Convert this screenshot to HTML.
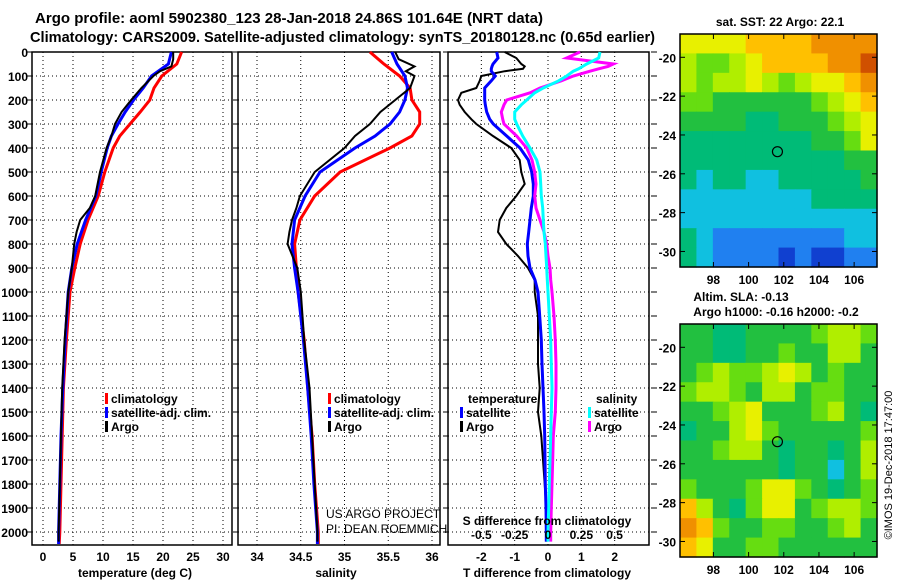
<!DOCTYPE html>
<html><head><meta charset="utf-8"><style>
body{margin:0;background:#fff;}
svg{display:block;font-family:"Liberation Sans",sans-serif;}
text{font-weight:bold;font-size:12px;fill:#000;}
</style></head><body>
<svg id="c" width="900" height="580" viewBox="0 0 900 580" xmlns="http://www.w3.org/2000/svg">
<text x="35" y="23" textLength="508" lengthAdjust="spacingAndGlyphs" style="font-size:15px">Argo profile: aoml 5902380_123 28-Jan-2018 24.86S 101.64E (NRT data)</text>
<text x="30" y="42" textLength="625" lengthAdjust="spacingAndGlyphs" style="font-size:15px">Climatology: CARS2009. Satellite-adjusted climatology: synTS_20180128.nc (0.65d earlier)</text>
<text x="780" y="26" text-anchor="middle">sat. SST: 22 Argo: 22.1</text>
<text x="741" y="301" text-anchor="middle">Altim. SLA: -0.13</text>
<text x="776" y="316" text-anchor="middle">Argo h1000: -0.16 h2000: -0.2</text>
<text transform="translate(892,465) rotate(-90)" text-anchor="middle" style="font-weight:normal;font-size:11px">©IMOS 19-Dec-2018 17:47:00</text>
<g id="g"></g>
</svg>
<script>
const depths=[0,50,100,150,200,250,300,350,400,500,600,700,800,900,1000,1200,1400,1600,1800,2000,2050];
const tClim=[23.1,22.3,19.8,18.5,17.8,16.2,14.5,12.8,11.7,10.3,9.2,7.5,6.2,5.3,4.5,3.9,3.4,3.2,3.0,2.8,2.7];
const tSat=[21.4,20.9,18.1,16.7,15.1,13.7,12.5,11.4,10.7,9.7,8.8,7.1,5.7,4.8,4.2,3.7,3.3,3.0,2.8,2.6,2.6];
const argoDepths=[0,30,60,80,100,150,200,250,300,350,400,500,600,650,700,750,800,900,1000,1200,1400,1600,1800,2000,2040];
const tArgo=[21.7,21.7,21.4,19.5,18.4,16.4,14.7,13.1,12.0,11.4,10.6,9.5,8.7,7.8,6.2,5.6,5.2,4.8,4.2,3.6,3.2,3.0,2.8,2.6,2.6];
const sClim=[35.29,35.45,35.63,35.75,35.77,35.86,35.86,35.77,35.52,34.95,34.66,34.49,34.43,34.45,34.47,34.54,34.58,34.63,34.66,34.70,34.70];
const sSat=[35.54,35.6,35.69,35.72,35.69,35.63,35.52,35.35,35.12,34.72,34.55,34.43,34.40,34.43,34.47,34.53,34.58,34.62,34.65,34.69,34.69];
const sArgo=[35.58,35.62,35.8,35.7,35.8,35.75,35.58,35.41,35.29,35.12,35.0,34.66,34.49,34.45,34.4,34.37,34.35,34.46,34.5,34.54,34.6,34.63,34.66,34.69,34.69];
const dDepths=[0,25,50,60,70,80,100,120,150,170,200,220,250,280,300,350,400,450,500,550,600,650,700,750,800,850,900,950,1000,1100,1200,1300,1400,1500,1600,1700,1800,1900,2000,2040];
const dtArgo=[-1.3,-0.95,-0.8,-0.7,-0.75,-1.3,-2.0,-2.05,-2.15,-2.6,-2.7,-2.65,-2.5,-2.3,-2.15,-1.65,-1.1,-0.85,-0.8,-0.7,-0.95,-1.25,-1.45,-1.5,-1.25,-0.9,-0.6,-0.4,-0.4,-0.3,-0.3,-0.3,-0.25,-0.3,-0.2,-0.15,-0.1,-0.05,-0.05,-0.05];
const dtSat=[-1.54,-1.5,-1.65,-1.68,-1.7,-1.7,-1.58,-1.7,-1.9,-1.9,-1.9,-1.88,-1.84,-1.75,-1.64,-1.24,-0.84,-0.59,-0.49,-0.44,-0.44,-0.5,-0.54,-0.58,-0.62,-0.6,-0.54,-0.39,-0.3,-0.25,-0.2,-0.18,-0.15,-0.12,-0.1,-0.09,-0.08,-0.06,-0.05,-0.05];
const dsArgo=[0.24,0.14,0.49,0.45,0.38,0.315,0.19,0.1,-0.06,-0.135,-0.31,-0.33,-0.35,-0.34,-0.33,-0.235,-0.16,-0.12,-0.1,-0.09,-0.1,-0.09,-0.06,-0.03,-0.01,0.0,0.015,0.02,0.03,0.045,0.055,0.06,0.06,0.055,0.04,0.035,0.03,0.025,0.02,0.02];
const dsSat=[0.39,0.38,0.29,0.26,0.23,0.19,0.14,0.08,-0.035,-0.1,-0.16,-0.2,-0.25,-0.25,-0.235,-0.19,-0.135,-0.085,-0.06,-0.055,-0.05,-0.04,-0.035,-0.03,-0.02,-0.015,-0.01,-0.005,0,0.01,0.02,0.025,0.03,0.025,0.02,0.015,0.01,0.005,0.0,0.0];
const depthTicks=[0,100,200,300,400,500,600,700,800,900,1000,1100,1200,1300,1400,1500,1600,1700,1800,1900,2000];
const tTicks=[0,5,10,15,20,25,30];
const sTicks=[34,34.5,35,35.5,36];
const dtTicks=[-2,-1,0,1,2];
const dsTicks=[-0.5,-0.25,0,0.25,0.5];
const sstGrid=[
[7,7,7,7,8,8,8,8,9,9,9,9],[6,5,5,6,7,8,8,8,8,9,9,10],[6,5,6,6,7,6,5,6,7,7,8,9],[5,5,4,4,4,4,4,4,5,6,7,8],
[4,4,4,4,3,3,4,4,4,5,6,7],[3,3,3,3,3,3,3,3,4,4,5,7],[3,3,3,3,3,3,3,3,3,3,4,4],[3,2,3,3,2,2,3,3,3,3,3,4],
[2,2,2,2,2,2,2,2,3,3,3,3],[2,2,2,2,2,2,2,2,2,2,2,2],[3,2,1,1,1,1,1,1,1,1,2,2],[3,2,1,1,1,1,0,1,0,0,1,1]];
const slaGrid=[
[4,4,3,3,4,4,4,4,5,6,6,5],[4,4,3,3,4,4,5,4,4,6,6,4],[4,5,6,5,5,6,7,6,4,5,4,4],[5,6,6,5,4,6,6,4,5,5,4,4],
[4,4,5,6,7,4,4,4,5,6,4,3],[3,4,4,6,7,5,4,4,4,4,4,5],[4,4,5,6,6,4,3,4,4,3,4,6],[4,4,4,4,4,4,3,4,4,2,4,6],
[5,4,4,4,5,7,7,5,4,3,4,5],[8,6,4,3,5,7,7,4,5,6,6,5],[9,8,5,4,4,5,5,4,4,5,6,4],[8,7,4,4,5,5,4,4,4,4,4,4]];
const cmap=['#1040d0','#2080f0','#10c0e0','#00bb77','#22c040','#66dd11','#b0ee00','#e8f000','#ffc000','#f09000','#d05000'];
const latTicks=[-20,-22,-24,-26,-28,-30];
const lonTicks=[98,100,102,104,106];

const NS='http://www.w3.org/2000/svg';
const G=document.getElementById('g');
function mk(tag,attrs,parent){const e=document.createElementNS(NS,tag);for(const k in attrs)e.setAttribute(k,attrs[k]);(parent||G).appendChild(e);return e;}
const yD=d=>52+d*0.24;
const xT=t=>43+t*6;
const xS=s=>257+(s-34)*87.5;
const xDT=t=>548+t*33.33;
const xDS=s=>548+s*133.3;

function panel(name,x0,x1,ticksX,fx,labelFmt){
  const g=mk('g',{});
  
  
  ticksX.forEach(v=>{const l=mk('line',{x1:fx(v),x2:fx(v),y1:52,y2:545,stroke:'#000','stroke-dasharray':'1,3','stroke-width':1},g);
    });
  depthTicks.forEach(d=>{const l=mk('line',{x1:x0,x2:x1,y1:yD(d),y2:yD(d),stroke:'#000','stroke-dasharray':'1,3','stroke-width':1},g);
    
    mk('line',{x1:x0-5,x2:x0,y1:yD(d),y2:yD(d),stroke:'#000'},g);});
  const r=mk('rect',{x:x0,y:52,width:x1-x0,height:493,fill:'none',stroke:'#000','stroke-width':1.5},g);
  
  if(labelFmt){ticksX.forEach(v=>{const t=mk('text',{x:fx(v),y:561,'text-anchor':'middle'},g);t.textContent=labelFmt(v);
    });}
  return g;
}
function line(name,ds,vs,fx,col,w,g){
  const p=mk('polyline',{points:ds.map((d,i)=>fx(vs[i]).toFixed(1)+','+yD(d).toFixed(1)).join(' '),fill:'none',stroke:col,'stroke-width':w,'stroke-linejoin':'miter'},g);
  
}
function txt(name,x,y,s,anchor,g,style){const t=mk('text',{x:x,y:y,'text-anchor':anchor||'start'},g);t.textContent=s;if(style)t.setAttribute('style',style);
  return t;}
function legend(name,x,y,col,label,g){const r=mk('rect',{x:x,y:y-10,width:3,height:11,fill:col},g);
  txt(name,x+6,y,label,'start',g);}

const p1=panel('temperature-panel',32,232,tTicks,xT,v=>String(v));
depthTicks.forEach(d=>txt('depth-tick-label',28,yD(d)+5,String(d),'end',p1));
line('temp-climatology-line',depths,tClim,xT,'#ff0000',3,p1);
line('temp-satellite-line',depths,tSat,xT,'#0000ff',3,p1);
line('temp-argo-line',argoDepths,tArgo,xT,'#000',2,p1);
txt('x-axis-title',135,577,'temperature (deg C)','middle',p1);
legend('legend-climatology',105,403,'#ff0000','climatology',p1);
legend('legend-satellite',105,417,'#0000ff','satellite-adj. clim.',p1);
legend('legend-argo',105,431,'#000','Argo',p1);

const p2=panel('salinity-panel',238,440,sTicks,xS,v=>String(v));
line('sal-climatology-line',depths,sClim,xS,'#ff0000',3,p2);
line('sal-satellite-line',depths,sSat,xS,'#0000ff',3,p2);
line('sal-argo-line',argoDepths,sArgo,xS,'#000',2,p2);
txt('x-axis-title',336,577,'salinity','middle',p2);
legend('legend-climatology',328,403,'#ff0000','climatology',p2);
legend('legend-satellite',328,417,'#0000ff','satellite-adj. clim.',p2);
legend('legend-argo',328,431,'#000','Argo',p2);
txt('credit-project',326,518,'US ARGO PROJECT','start',p2,'font-weight:normal');
txt('credit-pi',326,533,'PI: DEAN ROEMMICH','start',p2,'font-weight:normal');

const p3=panel('difference-panel',448,649,dtTicks,xDT,v=>String(v));
depthTicks.forEach(d=>mk('line',{x1:651,x2:657,y1:yD(d),y2:yD(d),stroke:'#000'},p3));
line('dt-argo-line',dDepths,dtArgo,xDT,'#000',2,p3);
line('dt-satellite-line',dDepths,dtSat,xDT,'#0000ff',3,p3);
line('ds-argo-line',dDepths,dsArgo,xDS,'#ff00ff',3,p3);
line('ds-satellite-line',dDepths,dsSat,xDS,'#00ffff',3,p3);
txt('legend-temperature-heading',468,403,'temperature','start',p3);
legend('legend-t-satellite',460,417,'#0000ff','satellite',p3);
legend('legend-t-argo',460,431,'#000','Argo',p3);
txt('legend-salinity-heading',596,403,'salinity','start',p3);
legend('legend-s-satellite',588,417,'#00ffff','satellite',p3);
legend('legend-s-argo',588,431,'#ff00ff','Argo',p3);
txt('s-axis-title',547,525,'S difference from climatology','middle',p3);
dsTicks.forEach(v=>txt('s-tick-label',xDS(v),539,String(v),'middle',p3));
txt('x-axis-title',547,577,'T difference from climatology','middle',p3);

function map(name,grid,y0,y1){
  const x0=680,x1=877;
  const g=mk('g',{});
  const rows=grid.length,cols=grid[0].length,cw=(x1-x0)/cols,ch=(y1-y0)/rows;
  grid.forEach((row,i)=>row.forEach((v,j)=>{const r=mk('rect',{x:x0+j*cw,y:y0+i*ch,width:cw+0.6,height:ch+0.6,fill:cmap[v]},g);
    }));
  const latY=l=>y0+( -18.8 - l)/12*(y1-y0);
  const lonX=l=>x0+(l-96.1)/11.2*(x1-x0);
  mk('rect',{x:x0,y:y0,width:x1-x0,height:y1-y0,fill:'none',stroke:'#000','stroke-width':1.5},g);
  latTicks.forEach(l=>{mk('line',{x1:x0,x2:x0+5,y1:latY(l),y2:latY(l),stroke:'#000'},g);mk('line',{x1:x1-5,x2:x1,y1:latY(l),y2:latY(l),stroke:'#000'},g);
    txt('lat-tick-label',x0-4,latY(l)+5,String(l),'end',g);});
  lonTicks.forEach(l=>{mk('line',{x1:lonX(l),x2:lonX(l),y1:y1-5,y2:y1,stroke:'#000'},g);mk('line',{x1:lonX(l),x2:lonX(l),y1:y0,y2:y0+5,stroke:'#000'},g);
    txt('lon-tick-label',lonX(l),y1+17,String(l),'middle',g);});
  const c=mk('circle',{cx:lonX(101.64),cy:latY(-24.86),r:5,fill:'none',stroke:'#000','stroke-width':1.2},g);
  
}
map('sst-map',sstGrid,34,267);
map('sla-map',slaGrid,324,557);
</script>
</body></html>
